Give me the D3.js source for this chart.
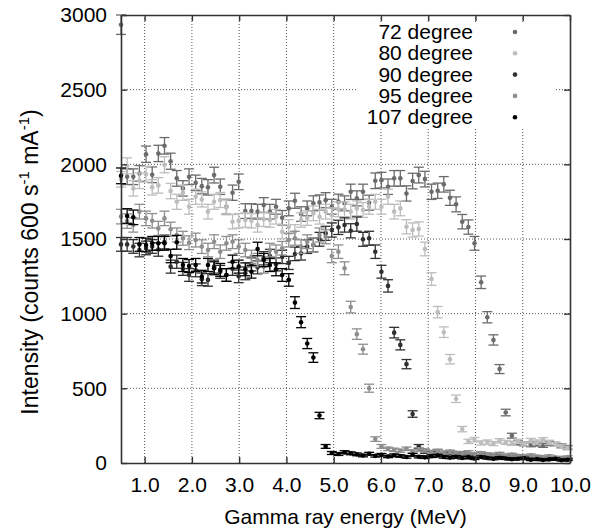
<!DOCTYPE html>
<html>
<head>
<meta charset="utf-8">
<script src="https://cdn.jsdelivr.net/npm/d3@7"></script>
<style>
body { margin: 0; background: #fff; }
svg text { font-family: "Liberation Sans", Arial, Helvetica, sans-serif; }
</style>
</head>
<body>
<div id="chart"></div>
<script>
"use strict";

// gamma ray energy of each bin (MeV)
var energy = [
	0.50, 0.63, 0.76, 0.89, 1.03, 1.16, 1.29, 1.42, 1.55, 1.68,
	1.81, 1.94, 2.08, 2.21, 2.34, 2.47, 2.60, 2.73, 2.86, 2.99,
	3.13, 3.26, 3.39, 3.52, 3.65, 3.78, 3.91, 4.05, 4.18, 4.31,
	4.44, 4.57, 4.70, 4.83, 4.96, 5.10, 5.23, 5.36, 5.49, 5.62,
	5.75, 5.88, 6.01, 6.15, 6.28, 6.41, 6.54, 6.67, 6.80, 6.93,
	7.07, 7.20, 7.33, 7.46, 7.59, 7.72, 7.85, 7.98, 8.12, 8.25,
	8.38, 8.51, 8.64, 8.77, 8.90, 9.03, 9.17, 9.30, 9.43, 9.56,
	9.69, 9.82, 9.95];

var deg72 = [
	2935, 1917, 1917, 1939, 2068, 1930, 2073, 2124, 2021, 1906,
	1839, 1917, 1876, 1854, 1846, 1928, 1850, 1716, 1810, 1883,
	1687, 1687, 1683, 1727, 1683, 1716, 1642, 1705, 1756, 1667,
	1705, 1739, 1745, 1760, 1716, 1750, 1739, 1816, 1772, 1816,
	1743, 1890, 1894, 1850, 1906, 1906, 1805, 1888, 1928, 1901,
	1816, 1823, 1866, 1776, 1732, 1616, 1580, 1471, 1210, 976,
	824, 629, 338, 183, 134, 128, 122, 127, 118, 130,
	125, 115, 105];

var deg80 = [
	1900, 1990, 1839, 1890, 1934, 1846, 1859, 1997, 1821, 1749,
	1810, 1716, 1783, 1765, 1683, 1749, 1761, 1712, 1616, 1622,
	1627, 1622, 1594, 1632, 1627, 1649, 1549, 1582, 1549, 1627,
	1640, 1672, 1649, 1683, 1660, 1699, 1699, 1683, 1705, 1694,
	1716, 1749, 1716, 1783, 1683, 1705, 1582, 1560, 1567, 1433,
	1232, 1010, 876, 695, 430, 227, 145, 156, 134, 140,
	130, 148, 138, 132, 145, 128, 150, 140, 155, 138,
	125, 112, 100];

var deg90 = [
	1464, 1464, 1450, 1426, 1440, 1450, 1430, 1480, 1315, 1348,
	1300, 1259, 1290, 1230, 1226, 1315, 1280, 1259, 1300, 1250,
	1270, 1330, 1310, 1371, 1386, 1330, 1380, 1340, 1400, 1404,
	1449, 1460, 1498, 1538, 1560, 1578, 1594, 1555, 1600, 1498,
	1505, 1415, 1281, 1186, 873, 791, 662, 328, 111, 75,
	68, 80, 62, 70, 58, 65, 55, 60, 48, 55,
	45, 50, 40, 46, 38, 42, 35, 40, 30, 34,
	28, 32, 25];

var deg95 = [
	1650, 1620, 1594, 1683, 1638, 1622, 1571, 1638, 1565, 1527,
	1505, 1475, 1493, 1449, 1426, 1482, 1415, 1471, 1482, 1449,
	1426, 1381, 1359, 1315, 1426, 1415, 1438, 1493, 1505, 1449,
	1482, 1460, 1527, 1515, 1386, 1415, 1304, 1044, 863, 762,
	501, 160, 111, 95, 88, 82, 95, 78, 90, 84,
	74, 80, 70, 76, 68, 64, 72, 60, 66, 58,
	55, 62, 50, 56, 48, 45, 52, 44, 40, 46,
	38, 35, 40];

var deg107 = [
	1923, 1654, 1645, 1464, 1460, 1471, 1471, 1471, 1386, 1478,
	1326, 1319, 1326, 1248, 1326, 1304, 1293, 1259, 1348, 1315,
	1297, 1281, 1433, 1359, 1326, 1297, 1259, 1226, 1074, 943,
	800, 706, 318, 111, 67, 60, 72, 65, 58, 50,
	62, 48, 55, 44, 52, 47, 40, 55, 42, 38,
	45, 50, 40, 36, 42, 34, 38, 30, 40, 33,
	28, 35, 30, 25, 28, 32, 22, 26, 20, 24,
	28, 18, 22];

var seriesNames = ["72 degree", "80 degree", "90 degree", "95 degree", "107 degree"];
var seriesValues = [deg72, deg80, deg90, deg95, deg107];
var seriesColors = ["#6b6b6b", "#bdbdbd", "#303030", "#8e8e8e", "#000000"];

var xTicks = [1, 2, 3, 4, 5, 6, 7, 8, 9, 10];
var yTicks = [0, 500, 1000, 1500, 2000, 2500, 3000];

// counting error, roughly sqrt(N)
var errScale = 1.2;

var width = 592;
var height = 530;
var margin = {top: 15, right: 22, bottom: 67, left: 121};
var w = width - margin.left - margin.right;
var h = height - margin.top - margin.bottom;

var svg = d3.select("#chart").append("svg")
	.attr("width", width)
	.attr("height", height);

var plot = svg.append("g")
	.attr("transform", "translate(" + margin.left + "," + margin.top + ")");

var x = d3.scaleLinear()
	.domain([0.5, 10])
	.range([0, w]);

var y = d3.scaleLinear()
	.domain([0, 3000])
	.range([h, 0]);

// dotted grid
plot.append("g")
	.selectAll("line")
	.data(xTicks.slice(0, -1))
	.enter()
	.append("line")
	.attr("x1", function(d) { return x(d); })
	.attr("x2", function(d) { return x(d); })
	.attr("y1", 0)
	.attr("y2", h)
	.attr("stroke", "#555")
	.attr("stroke-width", 1)
	.attr("stroke-dasharray", "1,2");

plot.append("g")
	.selectAll("line")
	.data(yTicks.slice(1, -1))
	.enter()
	.append("line")
	.attr("x1", 0)
	.attr("x2", w)
	.attr("y1", function(d) { return y(d); })
	.attr("y2", function(d) { return y(d); })
	.attr("stroke", "#555")
	.attr("stroke-width", 1)
	.attr("stroke-dasharray", "1,2");

// key background hides the grid
var legend = svg.append("g");
legend.append("rect")
	.attr("x", 357)
	.attr("y", 22)
	.attr("width", 199)
	.attr("height", 105)
	.attr("fill", "#fff");

// error bars and points
seriesValues.forEach(function(vals, s) {
	var pts = vals.map(function(v, i) { return {e: energy[i], v: v, err: errScale * Math.sqrt(v)}; });
	var g = plot.append("g")
		.attr("stroke", seriesColors[s])
		.attr("fill", seriesColors[s])
		.attr("stroke-width", 1.3);

	var bar = g.selectAll("g")
		.data(pts)
		.enter()
		.append("g");

	bar.append("line")
		.attr("x1", function(d) { return x(d.e); })
		.attr("x2", function(d) { return x(d.e); })
		.attr("y1", function(d) { return y(d.v - d.err); })
		.attr("y2", function(d) { return y(d.v + d.err); });

	bar.append("line")
		.attr("x1", function(d) { return x(d.e) - 5; })
		.attr("x2", function(d) { return x(d.e) + 5; })
		.attr("y1", function(d) { return y(d.v + d.err); })
		.attr("y2", function(d) { return y(d.v + d.err); });

	bar.append("line")
		.attr("x1", function(d) { return x(d.e) - 5; })
		.attr("x2", function(d) { return x(d.e) + 5; })
		.attr("y1", function(d) { return y(d.v - d.err); })
		.attr("y2", function(d) { return y(d.v - d.err); });

	bar.append("circle")
		.attr("cx", function(d) { return x(d.e); })
		.attr("cy", function(d) { return y(d.v); })
		.attr("r", 2.3)
		.attr("stroke", "none");
});

// axes, ticks pointing inward on all four sides
plot.append("g")
	.attr("transform", "translate(0," + h + ")")
	.call(d3.axisBottom(x).tickValues(xTicks).tickFormat(d3.format(".1f")).tickSizeInner(-6).tickSizeOuter(0).tickPadding(14));

plot.append("g")
	.call(d3.axisLeft(y).tickValues(yTicks).tickFormat(d3.format("d")).tickSizeInner(-6).tickSizeOuter(0).tickPadding(14));

plot.append("g")
	.call(d3.axisTop(x).tickValues(xTicks).tickFormat("").tickSizeInner(-6).tickSizeOuter(0));

plot.append("g")
	.attr("transform", "translate(" + w + ",0)")
	.call(d3.axisRight(y).tickValues(yTicks).tickFormat("").tickSizeInner(-6).tickSizeOuter(0));

plot.selectAll(".domain")
	.attr("stroke", "#333")
	.attr("stroke-width", 1.6);

plot.selectAll(".tick line")
	.attr("stroke", "#333")
	.attr("stroke-width", 1.4);

plot.selectAll(".tick text")
	.attr("fill", "#000")
	.style("font-size", "21px");

// axis titles
svg.append("text")
	.attr("x", margin.left + w / 2)
	.attr("y", 524)
	.attr("text-anchor", "middle")
	.style("font-size", "21px")
	.text("Gamma ray energy (MeV)");

var yTitle = svg.append("text")
	.attr("transform", "translate(38,262) rotate(-90)")
	.attr("text-anchor", "middle")
	.style("font-size", "23px");
yTitle.append("tspan").text("Intensity (counts 600 s");
yTitle.append("tspan").attr("dy", -9).style("font-size", "15px").text("-1");
yTitle.append("tspan").attr("dy", 9).text("  mA");
yTitle.append("tspan").attr("dy", -9).style("font-size", "15px").text("-1");
yTitle.append("tspan").attr("dy", 9).text(")");

// key
var row = legend.selectAll("g.row")
	.data(seriesNames)
	.enter()
	.append("g")
	.attr("class", "row")
	.attr("transform", function(d, i) { return "translate(0," + (39 + i * 21.3) + ")"; });

row.append("text")
	.attr("x", 473)
	.attr("y", 0)
	.attr("text-anchor", "end")
	.style("font-size", "21px")
	.text(function(d) { return d; });

row.append("circle")
	.attr("cx", 515)
	.attr("cy", -7)
	.attr("r", 2.3)
	.attr("fill", function(d, i) { return seriesColors[i]; });
</script>
</body>
</html>
